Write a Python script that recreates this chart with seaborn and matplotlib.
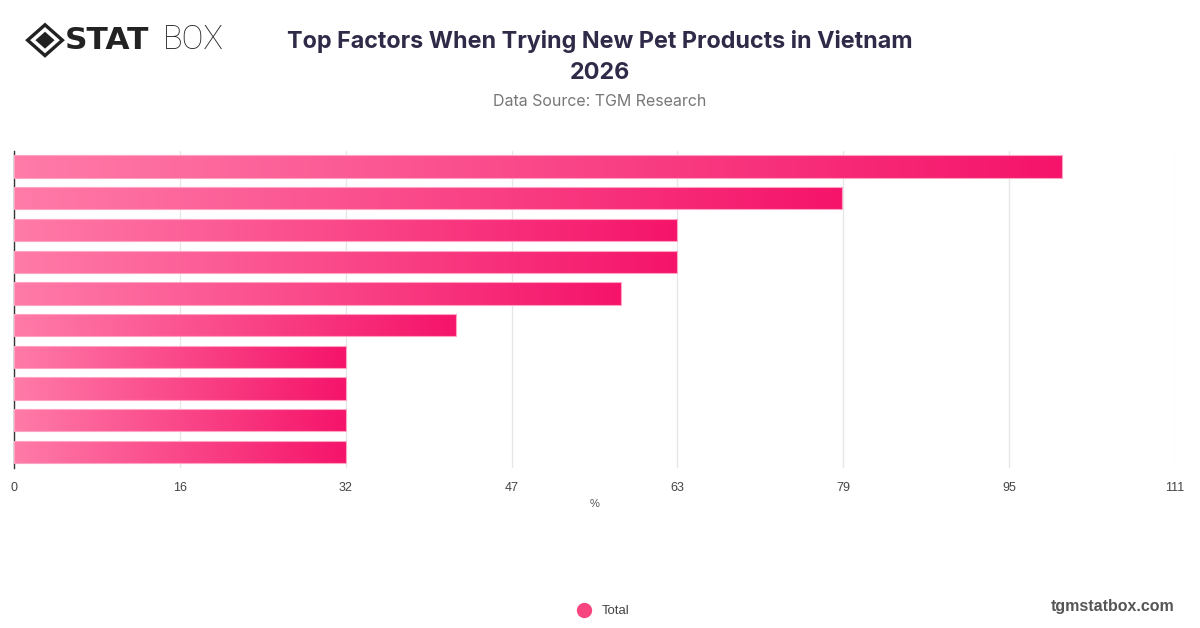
import numpy as np
import matplotlib
matplotlib.use("Agg")
import matplotlib.pyplot as plt
import seaborn as sns
from matplotlib.colors import LinearSegmentedColormap
from matplotlib.lines import Line2D
from matplotlib.patches import Polygon

# -----------------------------
# Data
# -----------------------------
factors = [
    "Factor 1", "Factor 2", "Factor 3", "Factor 4", "Factor 5",
    "Factor 6", "Factor 7", "Factor 8", "Factor 9", "Factor 10",
]
values = [100.2, 79.2, 63.4, 63.4, 58.0, 42.3, 31.7, 31.7, 31.7, 31.7]
tick_labels = ["0", "16", "32", "47", "63", "79", "95", "111"]
x_max = 111
series_name = "Total"

title = "Top Factors When Trying New Pet Products in Vietnam\n2026"
subtitle = "Data Source: TGM Research"

# -----------------------------
# Style
# -----------------------------
sns.set_theme(style="white")
plt.rcParams["font.family"] = ["Liberation Sans", "DejaVu Sans"]

pink_light = "#ff7ba8"
pink_dark = "#f5146a"
grad = LinearSegmentedColormap.from_list("pinkgrad", [pink_light, pink_dark])

fig = plt.figure(figsize=(12, 6.28), dpi=100)
ax = fig.add_axes([0.0117, 0.255, 0.9675, 0.505])

sns.barplot(x=values, y=factors, orient="h", width=0.7, color=pink_dark, ax=ax, zorder=3)

# gradient fill per bar
g = np.linspace(0, 1, 256).reshape(1, -1)
for p in ax.patches:
    x0, y0 = p.get_x(), p.get_y()
    w, h = p.get_width(), p.get_height()
    im = ax.imshow(g, cmap=grad, aspect="auto", extent=(x0, x0 + w, y0 + h, y0),
                   zorder=3, interpolation="bicubic")
    im.set_clip_path(p)
    p.set_facecolor("none")
    p.set_edgecolor("#ffa3c2")
    p.set_linewidth(0.8)
    p.set_zorder(4)

ax.set_xlim(0, x_max)
ax.set_ylim(len(factors) - 0.5, -0.5)
ax.set_xticks(np.linspace(0, x_max, len(tick_labels)))
ax.set_xticklabels(tick_labels, fontsize=9, color="#444444")
ax.set_yticks([])
ax.set_ylabel("")
ax.set_xlabel("%", fontsize=8, color="#555555", labelpad=4)
ax.tick_params(axis="x", length=0, pad=10)

ax.grid(axis="x", color="#e6e6e6", linewidth=0.9, zorder=0)
ax.set_axisbelow(True)
for s in ["top", "right", "bottom"]:
    ax.spines[s].set_visible(False)
ax.spines["left"].set_color("#333333")
ax.spines["left"].set_linewidth(1)
ax.spines["left"].set_zorder(2)

# -----------------------------
# Titles
# -----------------------------
fig.text(0.5, 0.952, title, ha="center", va="top", fontsize=16.8,
         fontweight="bold", color="#2e2a48", family=["Inter", "DejaVu Sans"],
         linespacing=1.5)
fig.text(0.5, 0.838, subtitle, ha="center", va="center", fontsize=11.5,
         color="#777777", family=["Inter", "DejaVu Sans"])

# logo
cx, cy = 0.0375, 0.936
dx, dy = 0.0145, 0.0245
fig.patches.append(Polygon([[cx - dx, cy], [cx, cy + dy], [cx + dx, cy], [cx, cy - dy]],
                           closed=True, transform=fig.transFigure, facecolor="none",
                           edgecolor="#222222", linewidth=2.4))
fig.patches.append(Polygon([[cx - dx * 0.55, cy], [cx, cy + dy * 0.55],
                            [cx + dx * 0.55, cy], [cx, cy - dy * 0.55]],
                           closed=True, transform=fig.transFigure, facecolor="#222222",
                           edgecolor="none"))
fig.text(0.054, 0.936, "STAT", ha="left", va="center", fontsize=22.5,
         fontweight="bold", color="#222222", family=["DejaVu Sans"])
fig.text(0.1355, 0.936, "BOX", ha="left", va="center", fontsize=23.5,
         fontweight="light", color="#222222", family=["Roboto", "DejaVu Sans"])

# legend
handle = Line2D([0], [0], marker="o", linestyle="none", markersize=10,
                markerfacecolor="#f8457f", markeredgecolor="#f8457f")
fig.legend([handle], [series_name], loc="center", bbox_to_anchor=(0.5, 0.027),
           frameon=False, fontsize=9.5, handletextpad=0.3, labelcolor="#444444")

fig.text(0.979, 0.035, "tgmstatbox.com", ha="right", va="center", fontsize=11.5,
         fontweight="bold", color="#555555")

fig.savefig("out.png", dpi=100)
